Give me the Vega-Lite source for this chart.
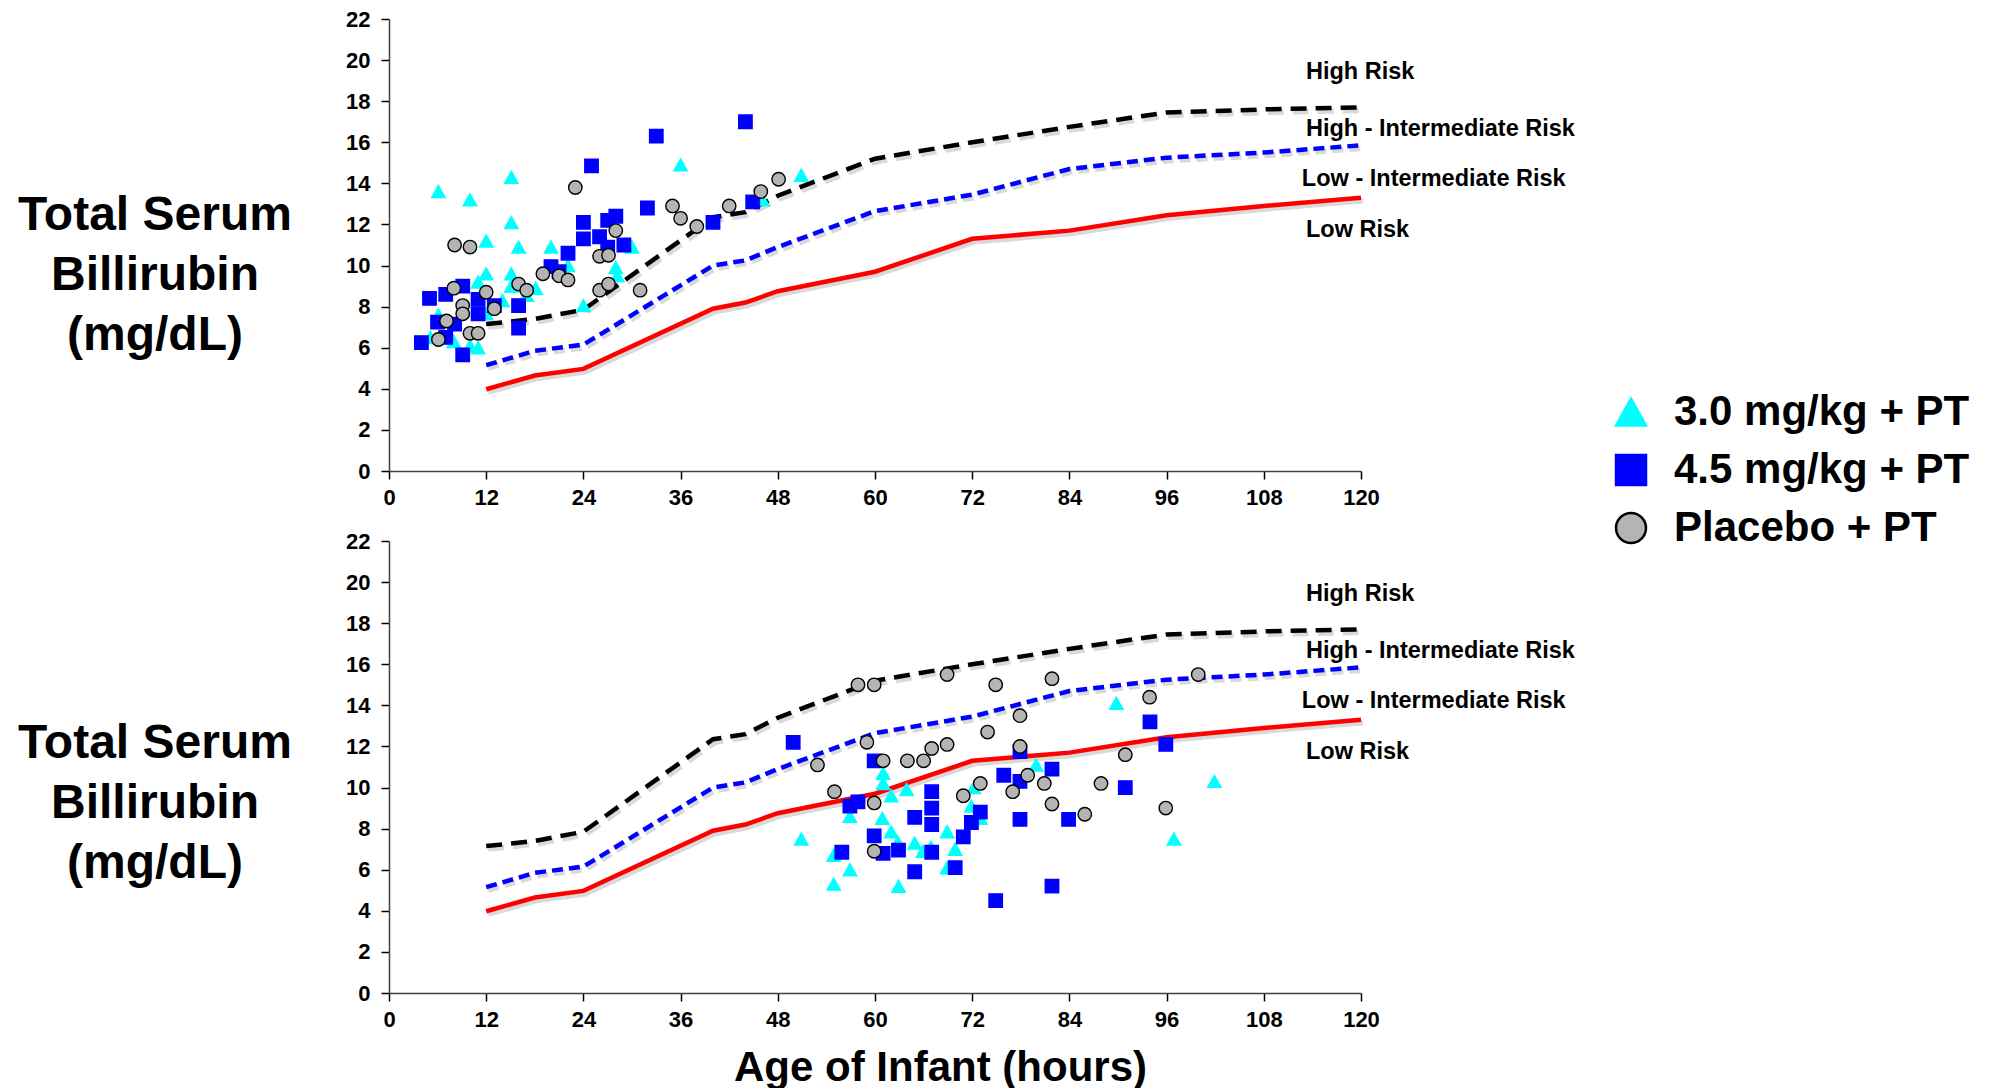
{
  "$schema": "https://vega.github.io/schema/vega-lite/v6.json",
  "background": "white",
  "padding": {"left": 17, "top": 8, "right": 0, "bottom": 0},
  "spacing": 22,
  "datasets": {
    "curves": [
      {"curve": "high", "h": 12, "v": 7.15}, {"curve": "high", "h": 18, "v": 7.4}, {"curve": "high", "h": 24, "v": 7.85},
      {"curve": "high", "h": 40, "v": 12.35}, {"curve": "high", "h": 44, "v": 12.6}, {"curve": "high", "h": 48, "v": 13.4},
      {"curve": "high", "h": 60, "v": 15.2}, {"curve": "high", "h": 72, "v": 16.0}, {"curve": "high", "h": 84, "v": 16.75},
      {"curve": "high", "h": 96, "v": 17.45}, {"curve": "high", "h": 108, "v": 17.6}, {"curve": "high", "h": 120, "v": 17.7},
      {"curve": "highint", "h": 12, "v": 5.15}, {"curve": "highint", "h": 18, "v": 5.85}, {"curve": "highint", "h": 24, "v": 6.15},
      {"curve": "highint", "h": 40, "v": 10.0}, {"curve": "highint", "h": 44, "v": 10.25}, {"curve": "highint", "h": 48, "v": 10.9},
      {"curve": "highint", "h": 60, "v": 12.65}, {"curve": "highint", "h": 72, "v": 13.45}, {"curve": "highint", "h": 84, "v": 14.7},
      {"curve": "highint", "h": 96, "v": 15.25}, {"curve": "highint", "h": 108, "v": 15.5}, {"curve": "highint", "h": 120, "v": 15.85},
      {"curve": "low", "h": 12, "v": 3.98}, {"curve": "low", "h": 18, "v": 4.65}, {"curve": "low", "h": 24, "v": 4.97},
      {"curve": "low", "h": 40, "v": 7.9}, {"curve": "low", "h": 44, "v": 8.2}, {"curve": "low", "h": 48, "v": 8.75},
      {"curve": "low", "h": 60, "v": 9.7}, {"curve": "low", "h": 72, "v": 11.3}, {"curve": "low", "h": 84, "v": 11.7},
      {"curve": "low", "h": 96, "v": 12.45}, {"curve": "low", "h": 108, "v": 12.9}, {"curve": "low", "h": 120, "v": 13.3}
    ],
    "labels": [
      {"label": "High Risk", "h": 113.2, "v": 19.4},
      {"label": "High - Intermediate Risk", "h": 113.2, "v": 16.65},
      {"label": "Low - Intermediate Risk", "h": 112.7, "v": 14.22},
      {"label": "Low Risk", "h": 113.2, "v": 11.73}
    ],
    "top": [
      {"g": "3.0 mg/kg + PT", "h": 6.1, "v": 13.6}, {"g": "3.0 mg/kg + PT", "h": 10.0, "v": 13.2}, {"g": "3.0 mg/kg + PT", "h": 15.1, "v": 14.3},
      {"g": "3.0 mg/kg + PT", "h": 15.1, "v": 12.1}, {"g": "3.0 mg/kg + PT", "h": 12.0, "v": 11.2}, {"g": "3.0 mg/kg + PT", "h": 16.0, "v": 10.9},
      {"g": "3.0 mg/kg + PT", "h": 20.0, "v": 10.9}, {"g": "3.0 mg/kg + PT", "h": 30.0, "v": 10.9}, {"g": "3.0 mg/kg + PT", "h": 36.0, "v": 14.9},
      {"g": "3.0 mg/kg + PT", "h": 50.9, "v": 14.4}, {"g": "3.0 mg/kg + PT", "h": 12.0, "v": 9.6}, {"g": "3.0 mg/kg + PT", "h": 11.0, "v": 9.2},
      {"g": "3.0 mg/kg + PT", "h": 15.1, "v": 9.6}, {"g": "3.0 mg/kg + PT", "h": 22.1, "v": 10.0}, {"g": "3.0 mg/kg + PT", "h": 28.0, "v": 9.9},
      {"g": "3.0 mg/kg + PT", "h": 28.2, "v": 9.5}, {"g": "3.0 mg/kg + PT", "h": 15.1, "v": 9.0}, {"g": "3.0 mg/kg + PT", "h": 18.1, "v": 8.9},
      {"g": "3.0 mg/kg + PT", "h": 17.0, "v": 8.55}, {"g": "3.0 mg/kg + PT", "h": 14.0, "v": 8.3}, {"g": "3.0 mg/kg + PT", "h": 12.0, "v": 7.65},
      {"g": "3.0 mg/kg + PT", "h": 6.1, "v": 7.6}, {"g": "3.0 mg/kg + PT", "h": 5.1, "v": 6.5}, {"g": "3.0 mg/kg + PT", "h": 8.0, "v": 6.3},
      {"g": "3.0 mg/kg + PT", "h": 10.0, "v": 6.1}, {"g": "3.0 mg/kg + PT", "h": 11.0, "v": 6.0}, {"g": "3.0 mg/kg + PT", "h": 24.0, "v": 8.05},
      {"g": "3.0 mg/kg + PT", "h": 46.1, "v": 13.2},
      {"g": "4.5 mg/kg + PT", "h": 5.0, "v": 8.4}, {"g": "4.5 mg/kg + PT", "h": 7.0, "v": 8.6}, {"g": "4.5 mg/kg + PT", "h": 9.1, "v": 9.0},
      {"g": "4.5 mg/kg + PT", "h": 11.0, "v": 8.35}, {"g": "4.5 mg/kg + PT", "h": 11.0, "v": 7.65}, {"g": "4.5 mg/kg + PT", "h": 13.0, "v": 8.05},
      {"g": "4.5 mg/kg + PT", "h": 16.0, "v": 8.05}, {"g": "4.5 mg/kg + PT", "h": 16.0, "v": 6.95}, {"g": "4.5 mg/kg + PT", "h": 6.0, "v": 7.25},
      {"g": "4.5 mg/kg + PT", "h": 8.1, "v": 7.15}, {"g": "4.5 mg/kg + PT", "h": 7.0, "v": 6.5}, {"g": "4.5 mg/kg + PT", "h": 4.0, "v": 6.25},
      {"g": "4.5 mg/kg + PT", "h": 9.1, "v": 5.65}, {"g": "4.5 mg/kg + PT", "h": 20.0, "v": 9.95}, {"g": "4.5 mg/kg + PT", "h": 22.1, "v": 10.6},
      {"g": "4.5 mg/kg + PT", "h": 24.0, "v": 11.3}, {"g": "4.5 mg/kg + PT", "h": 24.0, "v": 12.1}, {"g": "4.5 mg/kg + PT", "h": 25.0, "v": 14.85},
      {"g": "4.5 mg/kg + PT", "h": 26.0, "v": 11.4}, {"g": "4.5 mg/kg + PT", "h": 27.0, "v": 12.2}, {"g": "4.5 mg/kg + PT", "h": 28.0, "v": 12.4},
      {"g": "4.5 mg/kg + PT", "h": 27.0, "v": 10.9}, {"g": "4.5 mg/kg + PT", "h": 29.0, "v": 11.0}, {"g": "4.5 mg/kg + PT", "h": 31.9, "v": 12.8},
      {"g": "4.5 mg/kg + PT", "h": 33.0, "v": 16.3}, {"g": "4.5 mg/kg + PT", "h": 40.0, "v": 12.1}, {"g": "4.5 mg/kg + PT", "h": 44.0, "v": 17.0},
      {"g": "4.5 mg/kg + PT", "h": 44.9, "v": 13.1}, {"g": "4.5 mg/kg + PT", "h": 21.0, "v": 9.7},
      {"g": "Placebo + PT", "h": 8.1, "v": 11.0}, {"g": "Placebo + PT", "h": 10.0, "v": 10.9}, {"g": "Placebo + PT", "h": 8.0, "v": 8.9},
      {"g": "Placebo + PT", "h": 12.0, "v": 8.7}, {"g": "Placebo + PT", "h": 9.1, "v": 8.05}, {"g": "Placebo + PT", "h": 9.1, "v": 7.65},
      {"g": "Placebo + PT", "h": 13.0, "v": 7.9}, {"g": "Placebo + PT", "h": 7.1, "v": 7.3}, {"g": "Placebo + PT", "h": 6.1, "v": 6.4},
      {"g": "Placebo + PT", "h": 10.0, "v": 6.7}, {"g": "Placebo + PT", "h": 11.0, "v": 6.7}, {"g": "Placebo + PT", "h": 16.0, "v": 9.1},
      {"g": "Placebo + PT", "h": 17.0, "v": 8.8}, {"g": "Placebo + PT", "h": 19.0, "v": 9.6}, {"g": "Placebo + PT", "h": 21.0, "v": 9.5},
      {"g": "Placebo + PT", "h": 22.1, "v": 9.3}, {"g": "Placebo + PT", "h": 23.0, "v": 13.8}, {"g": "Placebo + PT", "h": 26.0, "v": 10.45},
      {"g": "Placebo + PT", "h": 27.1, "v": 10.5}, {"g": "Placebo + PT", "h": 28.0, "v": 11.7}, {"g": "Placebo + PT", "h": 26.0, "v": 8.8},
      {"g": "Placebo + PT", "h": 27.1, "v": 9.1}, {"g": "Placebo + PT", "h": 31.0, "v": 8.8}, {"g": "Placebo + PT", "h": 35.0, "v": 12.9},
      {"g": "Placebo + PT", "h": 36.0, "v": 12.3}, {"g": "Placebo + PT", "h": 38.0, "v": 11.9}, {"g": "Placebo + PT", "h": 42.0, "v": 12.9},
      {"g": "Placebo + PT", "h": 45.9, "v": 13.6}, {"g": "Placebo + PT", "h": 48.1, "v": 14.2}
    ],
    "bottom": [
      {"g": "3.0 mg/kg + PT", "h": 50.9, "v": 7.5}, {"g": "3.0 mg/kg + PT", "h": 54.9, "v": 6.7}, {"g": "3.0 mg/kg + PT", "h": 54.9, "v": 5.3},
      {"g": "3.0 mg/kg + PT", "h": 56.9, "v": 6.0}, {"g": "3.0 mg/kg + PT", "h": 56.9, "v": 8.6}, {"g": "3.0 mg/kg + PT", "h": 61.0, "v": 10.7},
      {"g": "3.0 mg/kg + PT", "h": 61.0, "v": 10.2}, {"g": "3.0 mg/kg + PT", "h": 62.0, "v": 9.6}, {"g": "3.0 mg/kg + PT", "h": 63.9, "v": 9.9},
      {"g": "3.0 mg/kg + PT", "h": 60.9, "v": 8.5}, {"g": "3.0 mg/kg + PT", "h": 62.0, "v": 7.85}, {"g": "3.0 mg/kg + PT", "h": 62.8, "v": 7.35},
      {"g": "3.0 mg/kg + PT", "h": 64.9, "v": 7.3}, {"g": "3.0 mg/kg + PT", "h": 65.9, "v": 6.9}, {"g": "3.0 mg/kg + PT", "h": 62.9, "v": 5.2},
      {"g": "3.0 mg/kg + PT", "h": 68.9, "v": 7.85}, {"g": "3.0 mg/kg + PT", "h": 69.9, "v": 7.0}, {"g": "3.0 mg/kg + PT", "h": 68.9, "v": 6.1},
      {"g": "3.0 mg/kg + PT", "h": 71.9, "v": 9.1}, {"g": "3.0 mg/kg + PT", "h": 72.2, "v": 10.0}, {"g": "3.0 mg/kg + PT", "h": 73.0, "v": 8.5},
      {"g": "3.0 mg/kg + PT", "h": 66.9, "v": 7.1}, {"g": "3.0 mg/kg + PT", "h": 79.9, "v": 11.1}, {"g": "3.0 mg/kg + PT", "h": 89.8, "v": 14.1},
      {"g": "3.0 mg/kg + PT", "h": 101.9, "v": 10.3}, {"g": "3.0 mg/kg + PT", "h": 96.9, "v": 7.5},
      {"g": "4.5 mg/kg + PT", "h": 49.9, "v": 12.2}, {"g": "4.5 mg/kg + PT", "h": 59.9, "v": 11.3}, {"g": "4.5 mg/kg + PT", "h": 57.9, "v": 9.3},
      {"g": "4.5 mg/kg + PT", "h": 56.9, "v": 9.1}, {"g": "4.5 mg/kg + PT", "h": 67.0, "v": 9.8}, {"g": "4.5 mg/kg + PT", "h": 67.0, "v": 9.0},
      {"g": "4.5 mg/kg + PT", "h": 67.0, "v": 8.2}, {"g": "4.5 mg/kg + PT", "h": 64.9, "v": 8.55}, {"g": "4.5 mg/kg + PT", "h": 59.9, "v": 7.65},
      {"g": "4.5 mg/kg + PT", "h": 55.9, "v": 6.85}, {"g": "4.5 mg/kg + PT", "h": 61.0, "v": 6.8}, {"g": "4.5 mg/kg + PT", "h": 62.9, "v": 6.95},
      {"g": "4.5 mg/kg + PT", "h": 67.0, "v": 6.85}, {"g": "4.5 mg/kg + PT", "h": 64.9, "v": 5.9}, {"g": "4.5 mg/kg + PT", "h": 69.9, "v": 6.1},
      {"g": "4.5 mg/kg + PT", "h": 70.9, "v": 7.6}, {"g": "4.5 mg/kg + PT", "h": 71.9, "v": 8.3}, {"g": "4.5 mg/kg + PT", "h": 73.0, "v": 8.8},
      {"g": "4.5 mg/kg + PT", "h": 75.9, "v": 10.6}, {"g": "4.5 mg/kg + PT", "h": 74.9, "v": 4.5}, {"g": "4.5 mg/kg + PT", "h": 77.9, "v": 11.75},
      {"g": "4.5 mg/kg + PT", "h": 81.85, "v": 10.9}, {"g": "4.5 mg/kg + PT", "h": 77.9, "v": 10.3}, {"g": "4.5 mg/kg + PT", "h": 90.9, "v": 10.0},
      {"g": "4.5 mg/kg + PT", "h": 77.9, "v": 8.45}, {"g": "4.5 mg/kg + PT", "h": 83.9, "v": 8.45}, {"g": "4.5 mg/kg + PT", "h": 81.85, "v": 5.2},
      {"g": "4.5 mg/kg + PT", "h": 93.95, "v": 13.2}, {"g": "4.5 mg/kg + PT", "h": 95.9, "v": 12.1},
      {"g": "Placebo + PT", "h": 57.9, "v": 15.0}, {"g": "Placebo + PT", "h": 59.9, "v": 15.0}, {"g": "Placebo + PT", "h": 68.9, "v": 15.5},
      {"g": "Placebo + PT", "h": 74.9, "v": 15.0}, {"g": "Placebo + PT", "h": 59.0, "v": 12.2}, {"g": "Placebo + PT", "h": 52.9, "v": 11.1},
      {"g": "Placebo + PT", "h": 61.0, "v": 11.3}, {"g": "Placebo + PT", "h": 64.0, "v": 11.3}, {"g": "Placebo + PT", "h": 66.0, "v": 11.3},
      {"g": "Placebo + PT", "h": 67.0, "v": 11.9}, {"g": "Placebo + PT", "h": 68.9, "v": 12.1}, {"g": "Placebo + PT", "h": 73.9, "v": 12.7},
      {"g": "Placebo + PT", "h": 55.0, "v": 9.8}, {"g": "Placebo + PT", "h": 59.9, "v": 9.25}, {"g": "Placebo + PT", "h": 59.9, "v": 6.9},
      {"g": "Placebo + PT", "h": 70.9, "v": 9.6}, {"g": "Placebo + PT", "h": 73.0, "v": 10.2}, {"g": "Placebo + PT", "h": 81.85, "v": 15.3},
      {"g": "Placebo + PT", "h": 99.9, "v": 15.5}, {"g": "Placebo + PT", "h": 93.9, "v": 14.4}, {"g": "Placebo + PT", "h": 77.9, "v": 13.5},
      {"g": "Placebo + PT", "h": 77.9, "v": 12.0}, {"g": "Placebo + PT", "h": 90.9, "v": 11.6}, {"g": "Placebo + PT", "h": 78.85, "v": 10.6},
      {"g": "Placebo + PT", "h": 80.9, "v": 10.2}, {"g": "Placebo + PT", "h": 77.0, "v": 9.8}, {"g": "Placebo + PT", "h": 87.9, "v": 10.2},
      {"g": "Placebo + PT", "h": 81.85, "v": 9.2}, {"g": "Placebo + PT", "h": 85.9, "v": 8.7}, {"g": "Placebo + PT", "h": 95.9, "v": 9.0}
    ]
  },
  "vconcat": [
    {
      "width": 972,
      "height": 452,
      "encoding": {
        "x": {"field": "h", "type": "quantitative", "scale": {"domain": [0, 120], "nice": false, "zero": false},
              "axis": {"values": [0, 12, 24, 36, 48, 60, 72, 84, 96, 108, 120], "title": null}},
        "y": {"field": "v", "type": "quantitative", "scale": {"domain": [0, 22], "nice": false},
              "axis": {"values": [0, 2, 4, 6, 8, 10, 12, 14, 16, 18, 20, 22], "title": ["Total Serum", "Billirubin", "(mg/dL)"], "titleX": -234.5, "titleY": 196}}
      },
      "layer": [
        {"data": {"name": "curves"}, "transform": [{"filter": "datum.curve === 'high'"}], "mark": {"type": "line", "stroke": "#000000", "opacity": 0.15, "strokeWidth": 5.5, "strokeDash": [16, 9], "xOffset": 2, "yOffset": 3}, "encoding": {}},
        {"data": {"name": "curves"}, "transform": [{"filter": "datum.curve === 'highint'"}], "mark": {"type": "line", "stroke": "#000000", "opacity": 0.15, "strokeWidth": 5.5, "strokeDash": [11, 6], "xOffset": 2, "yOffset": 3}, "encoding": {}},
        {"data": {"name": "curves"}, "transform": [{"filter": "datum.curve === 'low'"}], "mark": {"type": "line", "stroke": "#000000", "opacity": 0.15, "strokeWidth": 5.5, "xOffset": 2, "yOffset": 3}, "encoding": {}},
        {"data": {"name": "curves"}, "transform": [{"filter": "datum.curve === 'high'"}], "mark": {"type": "line", "stroke": "#000000", "strokeWidth": 4.5, "strokeDash": [16, 9]}, "encoding": {}},
        {"data": {"name": "curves"}, "transform": [{"filter": "datum.curve === 'highint'"}], "mark": {"type": "line", "stroke": "#0000ff", "strokeWidth": 4.5, "strokeDash": [11, 6]}, "encoding": {}},
        {"data": {"name": "curves"}, "transform": [{"filter": "datum.curve === 'low'"}], "mark": {"type": "line", "stroke": "#ff0000", "strokeWidth": 4.5}, "encoding": {}},
        {"data": {"name": "labels"}, "mark": {"type": "text", "align": "left", "baseline": "middle", "fontSize": 23.5, "fontWeight": "bold", "font": "Liberation Sans", "color": "#000000"},
         "encoding": {"text": {"field": "label", "type": "nominal"}}},
        {"data": {"name": "top"}, "mark": {"type": "point", "filled": true, "size": 180, "strokeWidth": 1.4, "opacity": 1},
         "encoding": {
           "shape": {"field": "g", "type": "nominal", "scale": {"domain": ["3.0 mg/kg + PT", "4.5 mg/kg + PT", "Placebo + PT"], "range": ["M0,-0.9L1,0.9L-1,0.9Z", "square", "circle"]}, "legend": {"title": null}},
           "fill": {"field": "g", "type": "nominal", "scale": {"domain": ["3.0 mg/kg + PT", "4.5 mg/kg + PT", "Placebo + PT"], "range": ["#00ffff", "#0000ff", "#b4b4b4"]}, "legend": {"title": null}},
           "stroke": {"field": "g", "type": "nominal", "scale": {"domain": ["3.0 mg/kg + PT", "4.5 mg/kg + PT", "Placebo + PT"], "range": ["#00ffff", "#0000ff", "#000000"]}, "legend": {"title": null}}
         }}
      ]
    },
    {
      "width": 972,
      "height": 452,
      "encoding": {
        "x": {"field": "h", "type": "quantitative", "scale": {"domain": [0, 120], "nice": false, "zero": false},
              "axis": {"values": [0, 12, 24, 36, 48, 60, 72, 84, 96, 108, 120], "title": "Age of Infant (hours)", "titleX": 551, "titleY": 74, "titleAlign": "center", "titleBaseline": "middle"}},
        "y": {"field": "v", "type": "quantitative", "scale": {"domain": [0, 22], "nice": false},
              "axis": {"values": [0, 2, 4, 6, 8, 10, 12, 14, 16, 18, 20, 22], "title": ["Total Serum", "Billirubin", "(mg/dL)"], "titleX": -234.5, "titleY": 202}}
      },
      "layer": [
        {"data": {"name": "curves"}, "transform": [{"filter": "datum.curve === 'high'"}], "mark": {"type": "line", "stroke": "#000000", "opacity": 0.15, "strokeWidth": 5.5, "strokeDash": [16, 9], "xOffset": 2, "yOffset": 3}, "encoding": {}},
        {"data": {"name": "curves"}, "transform": [{"filter": "datum.curve === 'highint'"}], "mark": {"type": "line", "stroke": "#000000", "opacity": 0.15, "strokeWidth": 5.5, "strokeDash": [11, 6], "xOffset": 2, "yOffset": 3}, "encoding": {}},
        {"data": {"name": "curves"}, "transform": [{"filter": "datum.curve === 'low'"}], "mark": {"type": "line", "stroke": "#000000", "opacity": 0.15, "strokeWidth": 5.5, "xOffset": 2, "yOffset": 3}, "encoding": {}},
        {"data": {"name": "curves"}, "transform": [{"filter": "datum.curve === 'high'"}], "mark": {"type": "line", "stroke": "#000000", "strokeWidth": 4.5, "strokeDash": [16, 9]}, "encoding": {}},
        {"data": {"name": "curves"}, "transform": [{"filter": "datum.curve === 'highint'"}], "mark": {"type": "line", "stroke": "#0000ff", "strokeWidth": 4.5, "strokeDash": [11, 6]}, "encoding": {}},
        {"data": {"name": "curves"}, "transform": [{"filter": "datum.curve === 'low'"}], "mark": {"type": "line", "stroke": "#ff0000", "strokeWidth": 4.5}, "encoding": {}},
        {"data": {"name": "labels"}, "mark": {"type": "text", "align": "left", "baseline": "middle", "fontSize": 23.5, "fontWeight": "bold", "font": "Liberation Sans", "color": "#000000"},
         "encoding": {"text": {"field": "label", "type": "nominal"}}},
        {"data": {"name": "bottom"}, "mark": {"type": "point", "filled": true, "size": 180, "strokeWidth": 1.4, "opacity": 1},
         "encoding": {
           "shape": {"field": "g", "type": "nominal", "scale": {"domain": ["3.0 mg/kg + PT", "4.5 mg/kg + PT", "Placebo + PT"], "range": ["M0,-0.9L1,0.9L-1,0.9Z", "square", "circle"]}, "legend": {"title": null}},
           "fill": {"field": "g", "type": "nominal", "scale": {"domain": ["3.0 mg/kg + PT", "4.5 mg/kg + PT", "Placebo + PT"], "range": ["#00ffff", "#0000ff", "#b4b4b4"]}, "legend": {"title": null}},
           "stroke": {"field": "g", "type": "nominal", "scale": {"domain": ["3.0 mg/kg + PT", "4.5 mg/kg + PT", "Placebo + PT"], "range": ["#00ffff", "#0000ff", "#000000"]}, "legend": {"title": null}}
         }}
      ]
    }
  ],
  "config": {
    "font": "Liberation Sans",
    "view": {"stroke": null},
    "axis": {
      "labelFont": "Liberation Sans", "labelFontSize": 22, "labelFontWeight": "bold", "labelColor": "#000000",
      "labelFlush": false, "labelOverlap": false,
      "domainColor": "#404040", "domainWidth": 1.5, "tickColor": "#000000", "tickWidth": 1.5, "tickSize": 8,
      "grid": false,
      "titleFont": "Liberation Sans", "titleFontWeight": "bold", "titleColor": "#000000"
    },
    "axisY": {"labelPadding": 11, "titleFontSize": 48, "titleLineHeight": 60, "titleAngle": 0, "titleAlign": "center", "titleBaseline": "middle"},
    "axisX": {"labelPadding": 8, "titleFontSize": 42},
    "legend": {
      "orient": "none", "legendX": 1221, "legendY": 372, "padding": 0,
      "labelFont": "Liberation Sans", "labelFontSize": 42, "labelFontWeight": "bold", "labelColor": "#000000", "labelLimit": 600,
      "symbolSize": 900, "symbolStrokeWidth": 2.5, "rowPadding": 16, "labelOffset": 22, "symbolOffset": 0
    }
  }
}
